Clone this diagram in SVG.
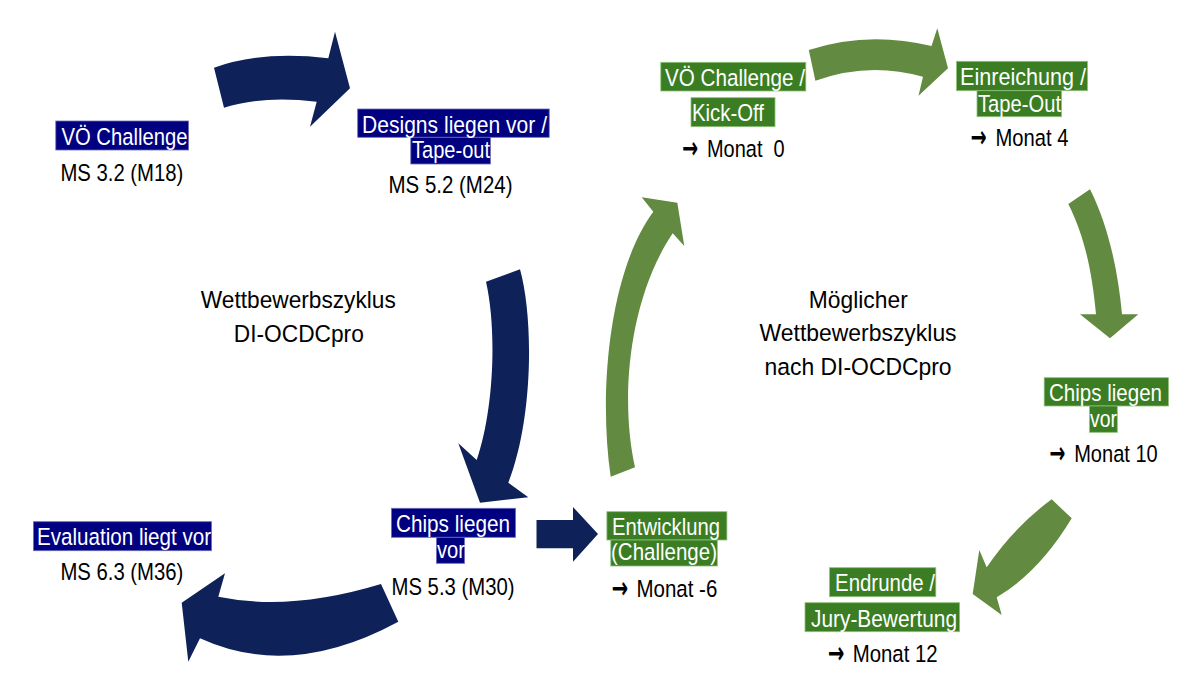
<svg xmlns="http://www.w3.org/2000/svg" width="1200" height="675" viewBox="0 0 1200 675">
<style>
text{font-family:"Liberation Sans",Arial,sans-serif;font-size:24.5px;fill:#000;}
.ar{font-family:"DejaVu Sans",sans-serif;font-size:30px;font-weight:bold;}
.lw{fill:#fff;}
.nb{fill:#000080;stroke:#6a6ab8;stroke-width:0.8;}
.gb{fill:#3b7d23;stroke:#8fbf7a;stroke-width:0.8;}
.na{fill:#0e2159;}
.ga{fill:#628a40;}
</style>
<rect width="1200" height="675" fill="#fff"/>
<g id="connectors">
<path class="na" d="M214,67.7 Q262.2,50.4 328.3,58.3 L335,31.7 L350,88.3 L310,126.7 L316.7,101.7 Q263,95.3 224,107.7 Z"/>
<path class="na" d="M486,281.7 L520,269.3 C534,320 533,420 508.3,482.7 L528.3,497.3 L480,502.7 L458.3,443.3 L476.7,460 C494,410 497,330 486,281.7 Z"/>
<path class="na" d="M381,584 Q290.4,611.6 218.3,596.7 L225,573.3 L181.7,602.7 L188.3,661.7 L200,638.3 Q290.8,680 398.3,621.7 Z"/>
<path class="na" d="M536.5,520 L573,520 L573,507 L598,534 L573,561.7 L573,548.3 L536.5,548.3 Z"/>
<path class="ga" d="M808.8,50 Q867.8,30.6 931.5,46 L937.3,28.3 L948,68.3 L918.5,95.7 L923,76.7 Q868.8,61.3 815.4,80.7 Z"/>
<path class="ga" d="M610.7,476.7 L635,467.3 C620,400 628,300 672.7,233.3 L684.3,246 L677.3,202.7 L641.7,197.3 L653.3,211.7 C610,270 598,390 610.7,476.7 Z"/>
<path class="ga" d="M1068.3,204 L1090,189.3 C1108,225 1118,270 1122,314.3 L1138.3,314.3 L1110,338.3 L1080,314.3 L1096,314.3 C1092,270 1084,235 1068.3,204 Z"/>
<path class="ga" d="M1051.7,499.3 Q1014.2,526.7 986.7,567.3 L979.3,550 L972.7,594 L1001.7,615 L996.7,597.3 Q1039.2,572.2 1071.7,518.3 Z"/>
</g>
<g id="vo-challenge">
<rect class="nb" x="55.8" y="121" width="132.7" height="29"/>
<text class="lw" x="61.5" y="145" textLength="126" lengthAdjust="spacingAndGlyphs">VÖ Challenge</text>
<text x="60.4" y="180.7" textLength="123" lengthAdjust="spacingAndGlyphs">MS 3.2 (M18)</text>
</g>
<g id="designs">
<rect class="nb" x="357.7" y="109" width="191.5" height="28.3"/>
<rect class="nb" x="410.8" y="137.3" width="79.6" height="26.7"/>
<text class="lw" x="362" y="132.5" textLength="185" lengthAdjust="spacingAndGlyphs">Designs liegen vor /</text>
<text class="lw" x="412" y="157.7" textLength="78" lengthAdjust="spacingAndGlyphs">Tape-out</text>
<text x="388.5" y="193.3" textLength="124" lengthAdjust="spacingAndGlyphs">MS 5.2 (M24)</text>
</g>
<g id="title-left">
<text x="200.8" y="308.3" textLength="195" lengthAdjust="spacingAndGlyphs">Wettbewerbszyklus</text>
<text x="233.8" y="341.7" textLength="130" lengthAdjust="spacingAndGlyphs">DI-OCDCpro</text>
</g>
<g id="evaluation">
<rect class="nb" x="33.5" y="521.7" width="178" height="29"/>
<text class="lw" x="37" y="545" textLength="174" lengthAdjust="spacingAndGlyphs">Evaluation liegt vor</text>
<text x="60.4" y="580" textLength="123" lengthAdjust="spacingAndGlyphs">MS 6.3 (M36)</text>
</g>
<g id="chips-left">
<rect class="nb" x="391.5" y="508.3" width="124" height="29"/>
<rect class="nb" x="436.5" y="537.3" width="28" height="26"/>
<text class="lw" x="396" y="531.7" textLength="114" lengthAdjust="spacingAndGlyphs">Chips liegen</text>
<text class="lw" x="437" y="558" textLength="28" lengthAdjust="spacingAndGlyphs">vor</text>
<text x="391.5" y="595" textLength="123" lengthAdjust="spacingAndGlyphs">MS 5.3 (M30)</text>
</g>
<g id="kickoff">
<rect class="gb" x="660.8" y="62.3" width="145" height="28.7"/>
<rect class="gb" x="691" y="97.7" width="84" height="29"/>
<text class="lw" x="665" y="85.7" textLength="140" lengthAdjust="spacingAndGlyphs">VÖ Challenge /</text>
<text class="lw" x="692" y="120.7" textLength="72" lengthAdjust="spacingAndGlyphs">Kick-Off</text>
<text class="ar" x="682" y="158" textLength="16" lengthAdjust="spacingAndGlyphs">→</text>
<text x="707" y="156.7" textLength="77.6" lengthAdjust="spacingAndGlyphs" xml:space="preserve">Monat  0</text>
</g>
<g id="einreichung">
<rect class="gb" x="956.5" y="61.3" width="131" height="29.4"/>
<rect class="gb" x="977" y="90.7" width="84.5" height="26"/>
<text class="lw" x="960" y="85" textLength="126" lengthAdjust="spacingAndGlyphs">Einreichung /</text>
<text class="lw" x="978" y="111.7" textLength="83" lengthAdjust="spacingAndGlyphs">Tape-Out</text>
<text class="ar" x="970.4" y="147.3" textLength="16" lengthAdjust="spacingAndGlyphs">→</text>
<text x="995.4" y="146" textLength="73" lengthAdjust="spacingAndGlyphs">Monat 4</text>
</g>
<g id="title-right">
<text x="808.8" y="308.3" textLength="99" lengthAdjust="spacingAndGlyphs">Möglicher</text>
<text x="759.6" y="340.7" textLength="197" lengthAdjust="spacingAndGlyphs">Wettbewerbszyklus</text>
<text x="764.6" y="375" textLength="187" lengthAdjust="spacingAndGlyphs">nach DI-OCDCpro</text>
</g>
<g id="chips-right">
<rect class="gb" x="1044.2" y="377.7" width="124.3" height="28.3"/>
<rect class="gb" x="1089.6" y="406" width="27.7" height="26.3"/>
<text class="lw" x="1049" y="400.7" textLength="113" lengthAdjust="spacingAndGlyphs">Chips liegen</text>
<text class="lw" x="1090" y="426.7" textLength="27" lengthAdjust="spacingAndGlyphs">vor</text>
<text class="ar" x="1049.2" y="463" textLength="16" lengthAdjust="spacingAndGlyphs">→</text>
<text x="1074.2" y="461.7" textLength="83.5" lengthAdjust="spacingAndGlyphs">Monat 10</text>
</g>
<g id="entwicklung">
<rect class="gb" x="606.9" y="511.7" width="120" height="28.3"/>
<rect class="gb" x="610.8" y="540" width="106.5" height="26"/>
<text class="lw" x="612" y="535" textLength="108" lengthAdjust="spacingAndGlyphs">Entwicklung</text>
<text class="lw" x="611" y="560" textLength="106" lengthAdjust="spacingAndGlyphs">(Challenge)</text>
<text class="ar" x="611.5" y="598" textLength="16.5" lengthAdjust="spacingAndGlyphs">→</text>
<text x="636.5" y="596.7" textLength="80.8" lengthAdjust="spacingAndGlyphs">Monat -6</text>
</g>
<g id="endrunde">
<rect class="gb" x="829.6" y="567.7" width="106.2" height="29"/>
<rect class="gb" x="805" y="602.7" width="154.6" height="29"/>
<text class="lw" x="835" y="590.7" textLength="100" lengthAdjust="spacingAndGlyphs">Endrunde /</text>
<text class="lw" x="811" y="626.7" textLength="146" lengthAdjust="spacingAndGlyphs">Jury-Bewertung</text>
<text class="ar" x="827.7" y="663" textLength="16.5" lengthAdjust="spacingAndGlyphs">→</text>
<text x="852.7" y="661.7" textLength="85" lengthAdjust="spacingAndGlyphs">Monat 12</text>
</g>
</svg>
